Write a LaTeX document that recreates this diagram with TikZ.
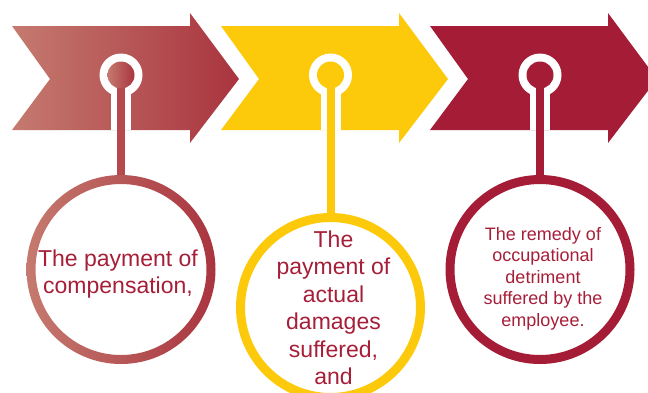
\documentclass[tikz,border=0pt]{standalone}
\usepackage{fontspec}
\setmainfont{Liberation Sans}
\usetikzlibrary{calc}
\definecolor{roseL}{HTML}{C57A6F}
\definecolor{roseD}{HTML}{A9343F}
\definecolor{roseM}{HTML}{B6494D}
\definecolor{gold}{HTML}{FCC90B}
\definecolor{wine}{HTML}{A51C36}
\definecolor{txt}{HTML}{A61E38}
\begin{document}
\begin{tikzpicture}[x=1pt,y=-1pt,
  ringnode/.style={circle, minimum size=180pt, inner sep=0pt, outer sep=0pt},
  label/.style={anchor=north, inner sep=0pt, align=center, text=txt},
  bigtext/.style={label, font=\fontsize{23}{27.5}\selectfont},
  smalltext/.style={label, font=\fontsize{18}{21.5}\selectfont}]
\useasboundingbox (0,0) rectangle (648,392);

% chevron arrows
\shade[left color=roseL, right color=roseD]
  (12,26) -- (190,26) -- (190,13) -- (239,79) -- (190,143) -- (190,130) -- (12,130) -- (50,79) -- cycle;
\fill[gold]
  (221,26) -- (399,26) -- (399,13) -- (448,79) -- (399,143) -- (399,130) -- (221,130) -- (259,79) -- cycle;
\fill[wine]
  (430,26) -- (608,26) -- (608,13) -- (657,79) -- (608,143) -- (608,130) -- (430,130) -- (468,79) -- cycle;

% pins and circles
\coordinate (p1) at (121,75);
\coordinate (p2) at (330.5,75);
\coordinate (p3) at (540,75);
\node[ringnode] (c1) at (121,269.5) {};
\node[ringnode] (c2) at (330.5,307.5) {};
\node[ringnode] (c3) at (540,269.5) {};

\foreach \p in {p1,p2,p3}{
  \fill[white] (\p) circle (21.5);
  \fill[white] ($(\p)+(-10,0)$) rectangle ($(\p)+(10,55)$);
}

% stems
\draw[line width=8pt, roseM] (p1) -- (c1.north);
\draw[line width=8pt, gold] (p2) -- (c2.north);
\draw[line width=8pt, wine] (p3) -- (c3.north);

% pin heads
\shade[left color=roseL, right color=roseD] (p1) circle (13.5);
\fill[gold] (p2) circle (13.5);
\fill[wine] (p3) circle (13.5);

% rings
\shade[left color=roseL, right color=roseD, even odd rule]
  (c1.center) circle (94.5) (c1.center) circle (85.5);
\draw[gold, line width=9pt] (c2.center) circle (90);
\draw[wine, line width=9pt] (c3.center) circle (90);

% texts
\node[bigtext] (t1) at (118,249.2) {The payment of\\compensation,};
\node[bigtext] (t2) at (333.5,230.5) {The\\payment of\\actual\\damages\\suffered,\\and};
\node[smalltext] (t3) at (543,227) {The remedy of\\occupational\\detriment\\suffered by the\\employee.};
\end{tikzpicture}
\end{document}
